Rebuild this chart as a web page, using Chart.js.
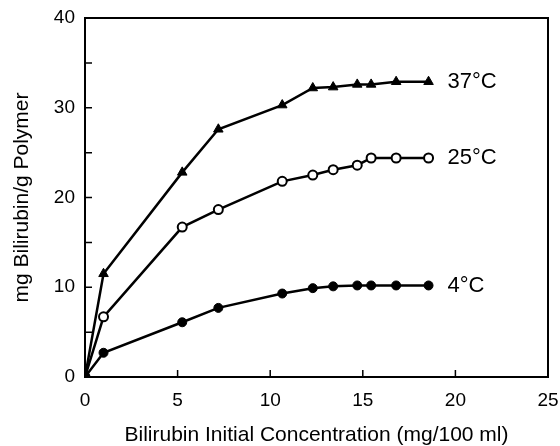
<!DOCTYPE html>
<html lang="en">
<head>
  <meta charset="UTF-8" />
  <title>Bilirubin binding</title>
  <script src="https://cdn.jsdelivr.net/npm/chart.js"></script>
  <style>
    html, body { margin: 0; padding: 0; background: #fff; }
    .chart-container { width: 560px; height: 446px; }
  </style>
</head>
<body>
  <div class="chart-container"><canvas id="chart"></canvas></div>

  <script>
    // data
    const conc = [0, 1.0, 5.25, 7.2, 10.65, 12.3, 13.4, 14.7, 15.45, 16.8, 18.55];
    const bound4 = [0, 2.7, 6.1, 7.7, 9.3, 9.9, 10.1, 10.2, 10.2, 10.2, 10.2];
    const bound25 = [0, 6.7, 16.7, 18.65, 21.8, 22.5, 23.1, 23.6, 24.4, 24.4, 24.4];
    const bound37 = [0, 11.5, 22.8, 27.6, 30.3, 32.2, 32.3, 32.6, 32.6, 32.9, 32.9];
    const seriesLabels = ['4°C', '25°C', '37°C'];
    const xTicks = [0, 5, 10, 15, 20, 25];
    const yTicks = [0, 10, 20, 30, 40];

    const font = 'Liberation Sans, Arial, sans-serif';
    const toPoints = vals => conc.map((x, i) => ({ x, y: vals[i] }));

    // box around the plot area and ticks pointing inwards
    const frame = {
      id: 'frame',
      afterDraw(chart) {
        const { ctx, chartArea: a, scales: { x, y } } = chart;
        ctx.save();
        ctx.strokeStyle = '#000';
        ctx.lineWidth = 2;
        ctx.strokeRect(a.left, a.top, a.right - a.left, a.bottom - a.top);
        ctx.lineWidth = 1.5;
        ctx.beginPath();
        x.ticks.forEach(t => {
          const px = x.getPixelForValue(t.value);
          ctx.moveTo(px, a.bottom);
          ctx.lineTo(px, a.bottom - 7);
        });
        y.ticks.forEach(t => {
          const py = y.getPixelForValue(t.value);
          ctx.moveTo(a.left, py);
          ctx.lineTo(a.left + 7, py);
        });
        ctx.stroke();

        // series names next to the last point
        ctx.fillStyle = '#000';
        ctx.font = '22px ' + font;
        ctx.textBaseline = 'middle';
        chart.data.datasets.forEach((ds, i) => {
          const last = ds.data[ds.data.length - 1];
          ctx.fillText(seriesLabels[i], x.getPixelForValue(last.x) + 19, y.getPixelForValue(last.y));
        });
        ctx.restore();
      }
    };

    new Chart(document.getElementById('chart'), {
      type: 'line',
      data: {
        datasets: [
          {
            label: seriesLabels[0],
            data: toPoints(bound4),
            borderColor: '#000',
            backgroundColor: '#000',
            pointStyle: 'circle',
            pointRadius: 4.5
          },
          {
            label: seriesLabels[1],
            data: toPoints(bound25),
            borderColor: '#000',
            backgroundColor: '#fff',
            pointStyle: 'circle',
            pointRadius: 4.5,
            pointBorderWidth: 2
          },
          {
            label: seriesLabels[2],
            data: toPoints(bound37),
            borderColor: '#000',
            backgroundColor: '#000',
            pointStyle: 'triangle',
            pointRadius: 5.5
          }
        ]
      },
      options: {
        responsive: true,
        maintainAspectRatio: false,
        animation: false,
        layout: { padding: 0 },
        elements: { line: { borderWidth: 2.5, tension: 0 } },
        plugins: { legend: { display: false }, tooltip: { enabled: false } },
        scales: {
          x: {
            type: 'linear',
            min: 0,
            max: 25,
            afterBuildTicks: s => { s.ticks = xTicks.map(v => ({ value: v })); },
            afterFit: s => { s.height = 69; s.paddingLeft = 0; s.paddingRight = 12; },
            grid: { display: false, drawTicks: false },
            border: { display: false },
            ticks: { color: '#000', font: { family: font, size: 19 }, padding: 12, maxRotation: 0 },
            title: {
              display: true,
              text: 'Bilirubin Initial Concentration (mg/100 ml)',
              color: '#000',
              font: { family: font, size: 21, lineHeight: 1 },
              padding: { top: 0, bottom: 0 }
            }
          },
          y: {
            type: 'linear',
            min: 0,
            max: 40,
            afterBuildTicks: s => {
              s.ticks = [];
              for (let v = 0; v <= 40; v += 5) s.ticks.push({ value: v });
            },
            afterFit: s => { s.width = 85; s.paddingTop = 18; s.paddingBottom = 0; },
            grid: { display: false, drawTicks: false },
            border: { display: false },
            ticks: {
              color: '#000',
              font: { family: font, size: 19 },
              padding: 10,
              callback: v => yTicks.includes(v) ? String(v) : ''
            },
            title: {
              display: true,
              text: 'mg Bilirubin/g Polymer',
              color: '#000',
              font: { family: font, size: 21, lineHeight: 1 },
              padding: { top: 12, bottom: 0 }
            }
          }
        }
      },
      plugins: [frame]
    });
  </script>
</body>
</html>
